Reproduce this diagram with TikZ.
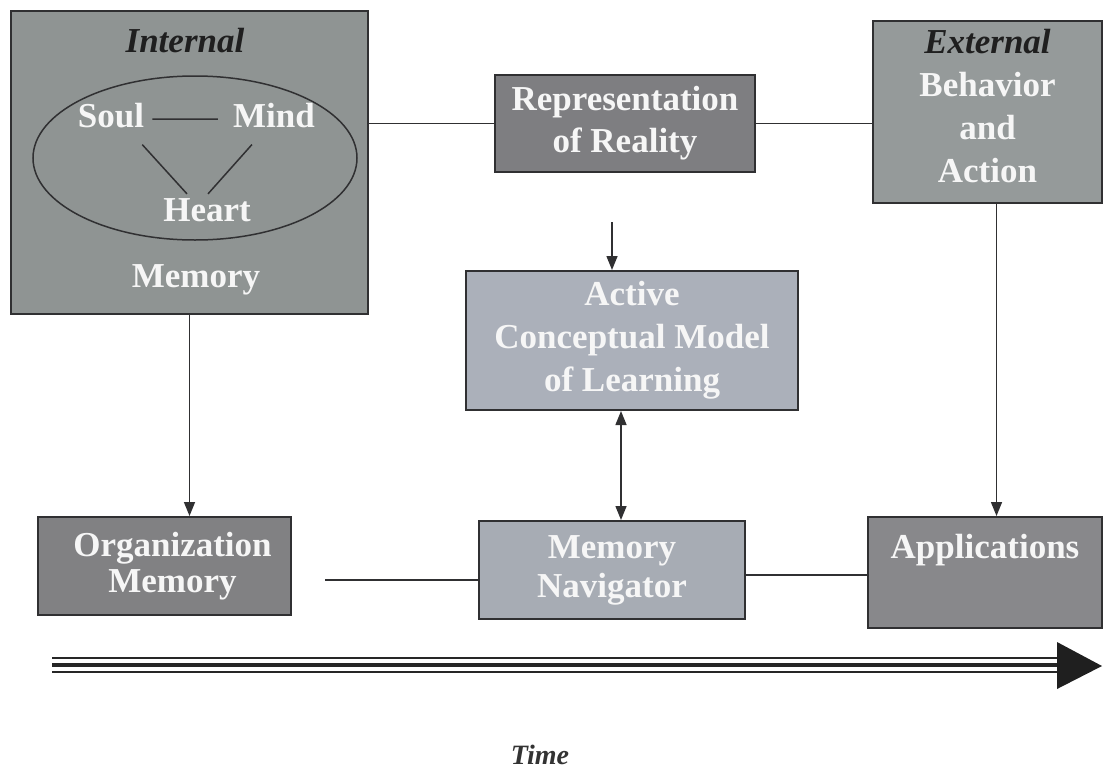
\documentclass[tikz,border=0pt]{standalone}
\usepackage{fontspec}
\setmainfont{Liberation Serif}
\usepackage{tikz}
\usetikzlibrary{calc}
\usetikzlibrary{arrows.meta}
\usetikzlibrary{shapes.geometric}
\usepackage{xcolor}
\definecolor{boxLine}{RGB}{48,48,50}
\definecolor{fillInt}{RGB}{143,148,147}
\definecolor{fillExt}{RGB}{149,154,154}
\definecolor{fillRep}{RGB}{126,126,129}
\definecolor{fillOrg}{RGB}{129,129,131}
\definecolor{fillApp}{RGB}{136,136,139}
\definecolor{fillAct}{RGB}{171,176,186}
\definecolor{fillNav}{RGB}{167,172,180}
\definecolor{txtWhite}{RGB}{246,246,246}
\def\fScale{\fontsize{35}{40}\selectfont\bfseries}
\def\lineThickness{(2pt)}
\def\connThickness{(1.5pt)}
\tikzset{panel/.style={draw=boxLine,line width=\lineThickness,rectangle,inner sep=0,text=txtWhite,font=\fScale,align=center}}
\tikzset{ltxt/.style={text=txtWhite,font=\fScale,inner sep=0,align=center}}
\tikzset{wtxt/.style={text=txtWhite,font=\fScale,inner sep=0,anchor=base}}
\tikzset{itxt/.style={text=black!88,font=\fScale\itshape,inner sep=0,anchor=base}}
\tikzset{conn/.style={draw=boxLine,line width=\connThickness}}
\tikzset{tip/.style={conn,-{Triangle[length=14pt,width=11pt]}}}
\tikzset{tiptwo/.style={conn,{Triangle[length=14pt,width=11pt]}-{Triangle[length=14pt,width=11pt]}}}

\begin{document}
\begin{tikzpicture}[x=1pt,y=-1pt]
\useasboundingbox (0,0) rectangle (1110,771);
% boxes
\node[panel,fill=fillInt,minimum width=357pt,minimum height=303pt] (internal) at (189.5,162.5) {};
\node[panel,fill=fillRep,font=\fontsize{35}{42}\selectfont\bfseries,minimum width=260pt,minimum height=97pt] (rep) at (625,123.5) {Representation\\of Reality};
\node[panel,fill=fillExt,minimum width=229pt,minimum height=182pt] (ext) at (987.5,112) {};
\node[ltxt,font=\fontsize{35}{43}\selectfont\bfseries] (extLbl) at ($(ext.center)+(0,-6)$) {{\color{black!88}\itshape External}\\Behavior\\and\\Action};
\node[panel,fill=fillAct,font=\fontsize{35}{43}\selectfont\bfseries,minimum width=332pt,minimum height=139pt] (active) at (632,340.5) {Active\\Conceptual Model\\of Learning};
\node[panel,fill=fillOrg,minimum width=253pt,minimum height=98pt] (org) at (164.5,566) {};
\node[ltxt,font=\fontsize{35}{36}\selectfont\bfseries] (orgLbl) at ($(org.center)+(8,0)$) {Organization\\Memory};
\node[panel,fill=fillNav,font=\fontsize{35}{39}\selectfont\bfseries,minimum width=266pt,minimum height=98pt] (nav) at (612,570) {Memory\\Navigator};
\node[panel,fill=fillApp,minimum width=234pt,minimum height=111pt] (apps) at (985,572.5) {};
\node[wtxt,anchor=north] (appsLbl) at ($(apps.north)+(0,18)$) {Applications};
% inside the internal box
\node[draw=boxLine,line width=\connThickness,ellipse,minimum width=324pt,minimum height=164pt] (ring) at (195,158) {};
\node[itxt] (intLbl) at (185,52) {Internal};
\node[wtxt] (soul) at (111,127) {Soul};
\node[wtxt] (mind) at (274,127) {Mind};
\node[wtxt] (heart) at (207,221) {Heart};
\node[wtxt] (memory) at (196,287) {Memory};
\draw[conn,shorten <=8pt,shorten >=15pt] ($(soul.east)+(0,4)$) -- ($(mind.west)+(0,4)$);
\draw[conn] ($(soul.south east)+(-2,17)$) -- ($(heart.north)+(-20,-4)$);
\draw[conn] ($(mind.south west)+(19,17)$) -- ($(heart.north)+(1,-4)$);
% connectors
\draw[conn] (rep.west) -- (rep.west -| internal.east);
\draw[conn] (rep.east) -- (rep.east -| ext.west);
\draw[tip] (internal.south) -- (internal.south |- org.north);
\coordinate (extOut) at ([xshift=9pt]ext.south);
\draw[tip] (extOut) -- (extOut |- apps.north);
\coordinate (repTail) at (612,222);
\draw[tip] (repTail) -- (repTail |- active.north);
\coordinate (actOut) at ([xshift=-11pt]active.south);
\draw[tiptwo] (actOut) -- (actOut |- nav.north);
\coordinate (orgTail) at (325,580);
\draw[conn] (orgTail) -- (orgTail -| nav.west);
\coordinate (navOut) at ([yshift=-5pt]nav.east);
\draw[conn] (navOut) -- (navOut -| apps.west);
% time axis
\coordinate (tStart) at (52,665);
\coordinate (tEnd) at (1058,665);
\foreach \dy/\lw in {-7/2.5pt,0/4.5pt,7/2.5pt}{\draw[black!85,line width=\lw] ($(tStart)+(0,\dy)$) -- ($(tEnd)+(0,\dy)$);}
\fill[black!88] ($(tEnd)+(-1,-23)$) -- ($(tEnd)+(44,1)$) -- ($(tEnd)+(-1,24)$) -- cycle;
\node[font=\fontsize{28}{30}\selectfont\bfseries\itshape,text=black!80,inner sep=0,anchor=base] (time) at (540,764) {Time};
\end{tikzpicture}
\end{document}
